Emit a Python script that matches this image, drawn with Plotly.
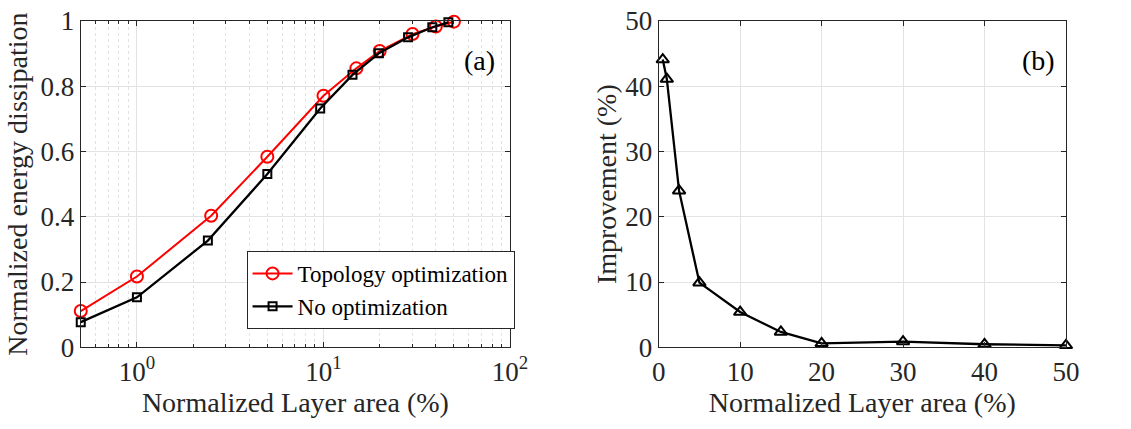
import plotly.graph_objects as go

# ---- data ----
area_topo = [0.5, 1, 2.5, 5, 10, 15, 20, 30, 40, 50]
energy_topo = [0.111, 0.217, 0.403, 0.584, 0.771, 0.855, 0.908, 0.960, 0.983, 0.998]

area_noopt = [0.5, 1, 2.4, 5, 9.6, 14.3, 19.8, 28.4, 38.3, 46.7]
energy_noopt = [0.077, 0.153, 0.327, 0.531, 0.732, 0.835, 0.901, 0.950, 0.981, 0.996]

area_impr = [0.5, 1, 2.5, 5, 10, 15, 20, 30, 40, 50]
improvement = [44.1, 41.1, 24.0, 9.9, 5.4, 2.35, 0.6, 0.87, 0.46, 0.3]

left_xticks = [1, 10, 100]
left_xticktext = ["10<sup>0</sup>", "10<sup>1</sup>", "10<sup>2</sup>"]
left_minor = [0.5, 0.6, 0.7, 0.8, 0.9] + [float(i) for i in range(2, 10)] + [float(10 * i) for i in range(2, 10)]
left_yticks = [0, 0.2, 0.4, 0.6, 0.8, 1]
left_yticktext = ["0", "0.2", "0.4", "0.6", "0.8", "1"]
right_xticks = [0, 10, 20, 30, 40, 50]
right_yticks = [0, 10, 20, 30, 40, 50]

FONT = "Liberation Serif"
AX = "#262626"
GRID = "#e3e3e3"
TICKF = 27
TITLEF = 28

fig = go.Figure()

fig.add_trace(go.Scatter(
    x=area_topo, y=energy_topo, mode="lines+markers", name="Topology optimization",
    line=dict(color="#ff0000", width=2),
    marker=dict(symbol="circle-open", size=12, color="#ff0000", line=dict(width=2)),
    xaxis="x", yaxis="y", cliponaxis=False))
fig.add_trace(go.Scatter(
    x=area_noopt, y=energy_noopt, mode="lines+markers", name="No optimization",
    line=dict(color="#000000", width=2.3),
    marker=dict(symbol="square-open", size=8, color="#000000", line=dict(width=2)),
    xaxis="x", yaxis="y", cliponaxis=False))
fig.add_trace(go.Scatter(
    x=area_impr, y=improvement, mode="lines+markers", name="Improvement",
    line=dict(color="#000000", width=2.3),
    marker=dict(symbol="triangle-up-open", size=11, color="#000000", line=dict(width=2)),
    xaxis="x2", yaxis="y2", showlegend=False, cliponaxis=False))

common = dict(showline=True, linecolor=AX, linewidth=1, mirror="ticks", ticks="inside",
              ticklen=5, tickcolor=AX, showgrid=True, gridcolor=GRID, gridwidth=1,
              zeroline=False, automargin=False,
              tickfont=dict(family=FONT, size=TICKF, color="#262626"),
              title_font=dict(family=FONT, size=TITLEF, color="#262626"))

fig.update_layout(
    width=1131, height=429,
    margin=dict(l=0, r=0, t=0, b=0),
    paper_bgcolor="white", plot_bgcolor="white",
    font=dict(family=FONT, color="#262626"),
    xaxis=dict(type="log", domain=[0.0714, 0.451], range=[-0.30103, 2],
               tickvals=left_xticks, ticktext=left_xticktext,
               minor=dict(tickvals=left_minor, ticks="inside", ticklen=3, tickcolor=AX,
                          showgrid=True, gridcolor="#e2e2e2", griddash="dot"),
               title=dict(text="Normalized Layer area (%)", standoff=4),
               anchor="y", **common),
    yaxis=dict(domain=[0.1905, 0.951], range=[0, 1], tickvals=left_yticks, ticktext=left_yticktext,
               title=dict(text="Normalized energy dissipation", standoff=4),
               anchor="x", **common),
    xaxis2=dict(domain=[0.5824, 0.9425], range=[0, 50], tickvals=right_xticks,
                title=dict(text="Normalized Layer area (%)", standoff=4),
                anchor="y2", **common),
    yaxis2=dict(domain=[0.1905, 0.951], range=[0, 50], tickvals=right_yticks,
                title=dict(text="Improvement (%)", standoff=0),
                anchor="x2", **common),
    legend=dict(x=0.218, y=0.415, xanchor="left", yanchor="top",
                bgcolor="white", bordercolor=AX, borderwidth=1,
                font=dict(family=FONT, size=23, color="#000000"),
                itemwidth=40, tracegroupgap=0),
    annotations=[
        dict(text="(a)", x=479 / 1131, y=1 - 61 / 429, xref="paper", yref="paper",
             xanchor="center", yanchor="middle",
             showarrow=False, font=dict(family=FONT, size=28, color="#000000")),
        dict(text="(b)", x=1038 / 1131, y=1 - 61 / 429, xref="paper", yref="paper",
             xanchor="center", yanchor="middle",
             showarrow=False, font=dict(family=FONT, size=28, color="#000000")),
    ],
)

fig.write_html("out.html")
